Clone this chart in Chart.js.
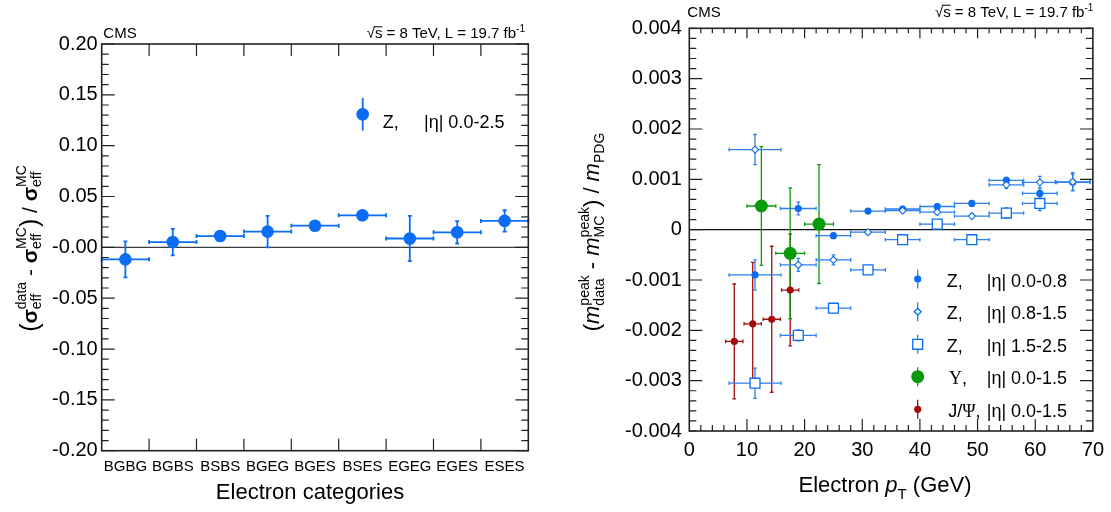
<!DOCTYPE html>
<html>
<head>
<meta charset="utf-8">
<script src="https://cdn.jsdelivr.net/npm/chart.js@4.4.1/dist/chart.umd.min.js"></script>
<style>
  html, body { margin: 0; padding: 0; background: #fff; width: 1111px; height: 512px; overflow: hidden; }
  .panel { position: absolute; top: 0; height: 512px; }
  #left { left: 0; width: 555px; }
  #right { left: 555px; width: 556px; }
</style>
</head>
<body>
<div class="panel" id="left"><canvas id="effChart"></canvas></div>
<div class="panel" id="right"><canvas id="peakChart"></canvas></div>
<script>
// left panel: relative sigma_eff shift per electron category (Z, |eta| 0.0-2.5)
const categories = ['BGBG', 'BGBS', 'BSBS', 'BGEG', 'BGES', 'BSES', 'EGEG', 'EGES', 'ESES'];
const sigmaShift = [-0.0118, 0.0052, 0.0111, 0.0155, 0.0213, 0.0315, 0.0087, 0.0148, 0.0260];
const sigmaShiftErr = [0.0177, 0.0130, 0.0030, 0.0155, 0.0040, 0.0030, 0.0222, 0.0110, 0.0105];

// right panel: relative peak shift vs electron pT
const zPt = [11.4, 18.9, 25.0, 31.0, 37.0, 43.0, 49.0, 55.0, 60.8, 66.5];
const zPtErr = [4.5, 3.1, 3.0, 3.0, 3.0, 3.0, 3.0, 3.0, 3.0, 3.0];
const zEta08 = [-0.00090, 0.00042, -0.00012, 0.00037, 0.00041, 0.00046, 0.00052, 0.00098, 0.00072, 0.00094];
const zEta08Err = [0.00030, 0.000125, 0.00005, 0.00004, 0.00005, 0.00005, 0.00004, 0.00006, 0.00010, 0.00016];
const zEta15 = [0.00159, -0.00070, -0.00060, -0.00005, 0.00038, 0.00035, 0.00027, 0.00089, 0.00094, 0.00095];
const zEta15Err = [0.00030, 0.00013, 0.00010, 0.00004, 0.00005, 0.00005, 0.00005, 0.00007, 0.00012, 0.00018];
const zEta25Pt = [11.4, 18.9, 25.0, 31.0, 37.0, 43.0, 49.0, 55.0, 60.8];
const zEta25PtErr = [4.5, 3.1, 3.0, 3.0, 3.0, 3.0, 3.0, 3.0, 3.0];
const zEta25 = [-0.00305, -0.00210, -0.00156, -0.00080, -0.00020, 0.00011, -0.00020, 0.00033, 0.00052];
const zEta25Err = [0.00030, 0.00011, 0.00005, 0.00005, 0.00005, 0.00005, 0.00005, 0.00010, 0.00014];
const upsPt = [12.5, 17.5, 22.5];
const upsPtErr = [2.5, 2.5, 2.5];
const ups = [0.00047, -0.00047, 0.00011];
const upsErr = [0.00118, 0.00130, 0.00118];
const jpsiPt = [7.8, 11.0, 14.3, 17.5];
const jpsiPtErr = [1.5, 1.5, 1.5, 1.5];
const jpsi = [-0.00222, -0.00187, -0.00178, -0.00120];
const jpsiErr = [0.00114, 0.00122, 0.00145, 0.00111];

const FONT = '"Liberation Sans", Arial, sans-serif';
const SERIF = '"Liberation Serif", "DejaVu Serif", serif';
const BLUE = '#0b6cf4';
const BLUE_BAR = '#2f80f0';
const GREEN = '#0a990a';
const RED = '#a30d0d';

const toPts = (xs, ys) => xs.map((x, i) => ({ x, y: ys[i] }));

function line(ctx, x1, y1, x2, y2) {
  ctx.beginPath(); ctx.moveTo(x1, y1); ctx.lineTo(x2, y2); ctx.stroke();
}

// horizontal + vertical error bar with small end caps
function errCross(ctx, px, py, x1, x2, yt, yb, cap) {
  ctx.beginPath();
  ctx.moveTo(x1, py); ctx.lineTo(x2, py);
  ctx.moveTo(x1, py - cap); ctx.lineTo(x1, py + cap);
  ctx.moveTo(x2, py - cap); ctx.lineTo(x2, py + cap);
  ctx.moveTo(px, yt); ctx.lineTo(px, yb);
  ctx.moveTo(px - cap, yt); ctx.lineTo(px + cap, yt);
  ctx.moveTo(px - cap, yb); ctx.lineTo(px + cap, yb);
  ctx.stroke();
}

function drawMarker(ctx, style, x, y, r, fill, stroke, lw) {
  ctx.beginPath();
  if (style === 'rect') {
    const h = r * Math.SQRT1_2;
    ctx.rect(x - h, y - h, 2 * h, 2 * h);
  } else if (style === 'rectRot') {
    ctx.moveTo(x - r, y); ctx.lineTo(x, y - r); ctx.lineTo(x + r, y); ctx.lineTo(x, y + r); ctx.closePath();
  } else {
    ctx.arc(x, y, r, 0, Math.PI * 2);
  }
  ctx.fillStyle = fill; ctx.fill();
  if (stroke) { ctx.strokeStyle = stroke; ctx.lineWidth = lw; ctx.stroke(); }
}

// text with sub/superscripts: segments {t,font,dy} or {sup,sub,font,supDy,subDy}
function richText(ctx, segs, x, y, draw) {
  let cx = x;
  segs.forEach(s => {
    ctx.font = s.font;
    if (s.t !== undefined) {
      if (draw) ctx.fillText(s.t, cx, y + (s.dy || 0));
      cx += ctx.measureText(s.t).width;
    } else {
      const w1 = ctx.measureText(s.sup || '').width;
      const w2 = ctx.measureText(s.sub || '').width;
      if (draw) {
        if (s.sup) ctx.fillText(s.sup, cx, y + s.supDy);
        if (s.sub) ctx.fillText(s.sub, cx, y + s.subDy);
      }
      cx += Math.max(w1, w2);
    }
  });
  return cx - x;
}

function drawRotatedTitle(ctx, segs, baseX, centerY) {
  ctx.save();
  ctx.translate(baseX, centerY);
  ctx.rotate(-Math.PI / 2);
  ctx.fillStyle = '#000';
  ctx.textAlign = 'left'; ctx.textBaseline = 'alphabetic';
  const w = richText(ctx, segs, 0, 0, false);
  richText(ctx, segs, -w / 2, 0, true);
  ctx.restore();
}

function drawHeader(ctx, leftX, rightX, baseY) {
  ctx.save();
  ctx.fillStyle = '#000';
  ctx.textBaseline = 'alphabetic'; ctx.textAlign = 'left';
  ctx.font = `15px ${FONT}`;
  ctx.fillText('CMS', leftX, baseY);
  const main = 's = 8 TeV, L = 19.7 fb';
  ctx.font = `10px ${FONT}`;
  const wSup = ctx.measureText('-1').width;
  ctx.font = `15px ${FONT}`;
  const wRoot = ctx.measureText('√').width;
  const wS = ctx.measureText('s').width;
  const wMain = ctx.measureText(main).width;
  const x0 = rightX - wSup - wMain - wRoot;
  ctx.fillText('√', x0, baseY);
  ctx.fillText(main, x0 + wRoot, baseY);
  ctx.lineWidth = 1; ctx.strokeStyle = '#000';
  line(ctx, x0 + wRoot - 1, baseY - 11.5, x0 + wRoot + wS, baseY - 11.5);
  ctx.font = `10px ${FONT}`;
  ctx.fillText('-1', x0 + wRoot + wMain, baseY - 6);
  ctx.restore();
}

function drawTicks(ctx, a, xPix, yPix, spec) {
  ctx.save();
  ctx.strokeStyle = '#222'; ctx.lineWidth = 1.2;
  ctx.beginPath();
  spec.xMajor.forEach(v => { const x = xPix(v); ctx.moveTo(x, a.bottom); ctx.lineTo(x, a.bottom - spec.xMajB); ctx.moveTo(x, a.top); ctx.lineTo(x, a.top + spec.xMajT); });
  spec.xMinor.forEach(v => { const x = xPix(v); ctx.moveTo(x, a.bottom); ctx.lineTo(x, a.bottom - spec.xMinB); ctx.moveTo(x, a.top); ctx.lineTo(x, a.top + spec.xMinT); });
  spec.yMajor.forEach(v => { const y = yPix(v); ctx.moveTo(a.left, y); ctx.lineTo(a.left + spec.yMaj, y); ctx.moveTo(a.right, y); ctx.lineTo(a.right - spec.yMaj, y); });
  spec.yMinor.forEach(v => { const y = yPix(v); ctx.moveTo(a.left, y); ctx.lineTo(a.left + spec.yMin, y); ctx.moveTo(a.right, y); ctx.lineTo(a.right - spec.yMin, y); });
  ctx.stroke();
  ctx.lineWidth = 1.6;
  ctx.strokeRect(a.left, a.top, a.right - a.left, a.bottom - a.top);
  ctx.restore();
}

function range(lo, hi, step) {
  const out = [];
  const n = Math.round((hi - lo) / step);
  for (let i = 0; i <= n; i++) out.push(lo + i * step);
  return out;
}

const leftDecor = {
  id: 'leftDecor',
  beforeDatasetsDraw(chart) {
    const { ctx, chartArea: a, scales: { x, y } } = chart;
    ctx.save();
    ctx.strokeStyle = '#3c3c3c'; ctx.lineWidth = 1.3;
    const y0 = y.getPixelForValue(0);
    line(ctx, a.left, y0, a.right, y0);
    const half = (x.getPixelForValue(1) - x.getPixelForValue(0)) / 2;
    ctx.strokeStyle = BLUE; ctx.lineWidth = 1.8;
    chart.getDatasetMeta(0).data.forEach((p, i) => {
      const v = sigmaShift[i], e = sigmaShiftErr[i];
      errCross(ctx, p.x, p.y, p.x - half, p.x + half, y.getPixelForValue(v + e), y.getPixelForValue(v - e), 2);
    });
    ctx.restore();
  },
  afterDatasetsDraw(chart) {
    const { ctx, chartArea: a, scales: { x, y } } = chart;
    drawTicks(ctx, a, v => x.getPixelForValue(v), v => y.getPixelForValue(v), {
      xMajor: range(0.5, 7.5, 1), xMinor: [], xMajB: 12, xMajT: 12, xMinB: 0, xMinT: 0,
      yMajor: range(-0.2, 0.2, 0.05), yMinor: range(-0.2, 0.2, 0.01), yMaj: 13, yMin: 7
    });
    // legend
    ctx.save();
    ctx.strokeStyle = BLUE; ctx.lineWidth = 1.8;
    line(ctx, 362.7, 98, 362.7, 130.5);
    drawMarker(ctx, 'circle', 362.7, 114.3, 6.3, BLUE);
    ctx.fillStyle = '#000'; ctx.font = `18px ${FONT}`; ctx.textBaseline = 'alphabetic';
    ctx.fillText('Z,', 382.7, 127.5);
    ctx.fillText('|η| 0.0-2.5', 424, 127.5);
    // x title
    ctx.font = `22px ${FONT}`; ctx.textAlign = 'center';
    ctx.fillText('Electron categories', 310, 499);
    ctx.restore();
    drawRotatedTitle(ctx, [
      { t: '(', font: `25px ${FONT}`, dy: 1 },
      { t: 'σ', font: `bold 21px ${FONT}` },
      { sup: 'data', sub: 'eff', font: `14px ${FONT}`, supDy: -11, subDy: 4 },
      { t: ' - ', font: `21px ${FONT}` },
      { t: 'σ', font: `bold 21px ${FONT}` },
      { sup: 'MC', sub: 'eff', font: `14px ${FONT}`, supDy: -11, subDy: 4 },
      { t: ')', font: `25px ${FONT}`, dy: 1 },
      { t: ' / ', font: `21px ${FONT}` },
      { t: 'σ', font: `bold 21px ${FONT}` },
      { sup: 'MC', sub: 'eff', font: `14px ${FONT}`, supDy: -11, subDy: 4 }
    ], 37, 248.5);
    drawHeader(ctx, 103.3, 525, 38.3);
  }
};

const rightDecor = {
  id: 'rightDecor',
  beforeDatasetsDraw(chart) {
    const { ctx, chartArea: a, scales: { x, y } } = chart;
    ctx.save();
    ctx.strokeStyle = '#111'; ctx.lineWidth = 1.3;
    const y0 = y.getPixelForValue(0);
    line(ctx, a.left, y0, a.right, y0);
    chart.data.datasets.forEach((ds, di) => {
      ctx.strokeStyle = ds.barColor; ctx.lineWidth = 1.3;
      chart.getDatasetMeta(di).data.forEach((p, i) => {
        const d = ds.data[i];
        errCross(ctx, p.x, p.y,
          x.getPixelForValue(d.x - ds.errX[i]), x.getPixelForValue(d.x + ds.errX[i]),
          y.getPixelForValue(d.y + ds.errY[i]), y.getPixelForValue(d.y - ds.errY[i]), 1.8);
      });
    });
    ctx.restore();
  },
  afterDatasetsDraw(chart) {
    const { ctx, chartArea: a, scales: { x, y } } = chart;
    drawTicks(ctx, a, v => x.getPixelForValue(v), v => y.getPixelForValue(v), {
      xMajor: range(10, 60, 10), xMinor: range(2, 68, 2), xMajB: 12, xMajT: 10, xMinB: 6, xMinT: 5,
      yMajor: range(-0.003, 0.003, 0.001), yMinor: range(-0.004, 0.004, 0.0002), yMaj: 13, yMin: 7
    });
    // legend
    const rows = [
      { style: 'circle', r: 3.6, fill: BLUE, stroke: null, color: BLUE_BAR, name: 'Z,', eta: '|η| 0.0-0.8' },
      { style: 'rectRot', r: 3.5, fill: '#fff', stroke: BLUE, color: BLUE_BAR, name: 'Z,', eta: '|η| 0.8-1.5' },
      { style: 'rect', r: 7, fill: '#fff', stroke: BLUE, color: BLUE_BAR, name: 'Z,', eta: '|η| 1.5-2.5' },
      { style: 'circle', r: 6.5, fill: GREEN, stroke: null, color: GREEN, name: 'Υ,', eta: '|η| 0.0-1.5', serif: true },
      { style: 'circle', r: 3.6, fill: RED, stroke: null, color: RED, name: 'J/Ψ,', eta: '|η| 0.0-1.5', serif: true }
    ];
    const rowY = [279, 311.7, 344.3, 376.7, 409.3];
    ctx.save();
    rows.forEach((r, i) => {
      const ry = rowY[i], mx = 362.7;
      ctx.strokeStyle = r.color; ctx.lineWidth = 1.3;
      line(ctx, mx, ry - 9.5, mx, ry + 9.5);
      drawMarker(ctx, r.style, mx, ry, r.r, r.fill, r.stroke, 1.3);
      ctx.fillStyle = '#000'; ctx.textBaseline = 'alphabetic';
      if (r.serif) {
        ctx.font = `18px ${FONT}`;
        const parts = r.name === 'J/Ψ,' ? [['J/', FONT], ['Ψ', SERIF], [',', FONT]] : [['Υ', SERIF], [',', FONT]];
        let tx = r.name === 'J/Ψ,' ? 393.3 : 394;
        parts.forEach(([t, f]) => { ctx.font = `18px ${f}`; ctx.fillText(t, tx, ry + 7.5); tx += ctx.measureText(t).width; });
      } else {
        ctx.font = `18px ${FONT}`;
        ctx.fillText(r.name, 391.7, ry + 7.5);
      }
      ctx.font = `18px ${FONT}`;
      ctx.fillText(r.eta, 431.7, ry + 7.5);
    });
    // x title
    ctx.font = `22px ${FONT}`;
    const segs = [
      { t: 'Electron ', font: `22px ${FONT}` },
      { t: 'p', font: `italic 22px ${FONT}` },
      { sup: '', sub: 'T', font: `15px ${FONT}`, supDy: 0, subDy: 7 },
      { t: ' (GeV)', font: `22px ${FONT}` }
    ];
    ctx.textAlign = 'left';
    const w = richText(ctx, segs, 0, 0, false);
    richText(ctx, segs, 330 - w / 2, 492, true);
    ctx.restore();
    drawRotatedTitle(ctx, [
      { t: '(', font: `22px ${FONT}` },
      { t: 'm', font: `italic 22px ${FONT}` },
      { sup: 'peak', sub: 'data', font: `14px ${FONT}`, supDy: -10, subDy: 5 },
      { t: ' - ', font: `22px ${FONT}` },
      { t: 'm', font: `italic 22px ${FONT}` },
      { sup: 'peak', sub: 'MC', font: `14px ${FONT}`, supDy: -10, subDy: 5 },
      { t: ')', font: `22px ${FONT}` },
      { t: ' / ', font: `22px ${FONT}` },
      { t: 'm', font: `italic 22px ${FONT}` },
      { sup: '', sub: 'PDG', font: `14px ${FONT}`, supDy: 0, subDy: 5 }
    ], 44, 232);
    drawHeader(ctx, 132.3, 538.3, 16.7);
  }
};

const noGrid = { display: false, drawTicks: false };

new Chart(document.getElementById('effChart'), {
  type: 'line',
  data: {
    labels: categories,
    datasets: [{
      data: sigmaShift, showLine: false, pointStyle: 'circle', pointRadius: 6.3,
      pointBackgroundColor: BLUE, pointBorderWidth: 0, clip: false
    }]
  },
  options: {
    responsive: true, maintainAspectRatio: false, animation: false,
    layout: { padding: { left: 0, right: 26.7, top: 44, bottom: 0 } },
    plugins: { legend: { display: false }, tooltip: { enabled: false } },
    scales: {
      x: {
        type: 'category', offset: true, grid: noGrid, border: { display: false },
        ticks: { font: { family: FONT, size: 15 }, color: '#000', padding: 7, autoSkip: false, maxRotation: 0 },
        afterFit: s => { s.height = 61.3; }
      },
      y: {
        min: -0.2, max: 0.2, grid: noGrid, border: { display: false },
        ticks: {
          stepSize: 0.05, font: { family: FONT, size: 20 }, color: '#000', padding: 4,
          callback: v => Math.abs(v) < 1e-9 ? '-0.00' : v.toFixed(2)
        },
        afterFit: s => { s.width = 101.7; }
      }
    }
  },
  plugins: [leftDecor]
});

new Chart(document.getElementById('peakChart'), {
  type: 'scatter',
  data: {
    datasets: [
      { data: toPts(jpsiPt, jpsi), errX: jpsiPtErr, errY: jpsiErr, barColor: RED,
        pointStyle: 'circle', pointRadius: 3.6, pointBackgroundColor: RED, pointBorderWidth: 0 },
      { data: toPts(upsPt, ups), errX: upsPtErr, errY: upsErr, barColor: GREEN,
        pointStyle: 'circle', pointRadius: 6.5, pointBackgroundColor: GREEN, pointBorderWidth: 0 },
      { data: toPts(zEta25Pt, zEta25), errX: zEta25PtErr, errY: zEta25Err, barColor: BLUE_BAR,
        pointStyle: 'rect', pointRadius: 7, pointBackgroundColor: '#fff', pointBorderColor: BLUE, pointBorderWidth: 1.3 },
      { data: toPts(zPt, zEta15), errX: zPtErr, errY: zEta15Err, barColor: BLUE_BAR,
        pointStyle: 'rectRot', pointRadius: 3.5, pointBackgroundColor: '#fff', pointBorderColor: BLUE, pointBorderWidth: 1.1 },
      { data: toPts(zPt, zEta08), errX: zPtErr, errY: zEta08Err, barColor: BLUE_BAR,
        pointStyle: 'circle', pointRadius: 3.6, pointBackgroundColor: BLUE, pointBorderWidth: 0 }
    ]
  },
  options: {
    responsive: true, maintainAspectRatio: false, animation: false,
    layout: { padding: { left: 0, right: 17.7, top: 28.3, bottom: 0 } },
    plugins: { legend: { display: false }, tooltip: { enabled: false } },
    scales: {
      x: {
        type: 'linear', min: 0, max: 70, grid: noGrid, border: { display: false },
        ticks: { stepSize: 10, font: { family: FONT, size: 20 }, color: '#000', padding: 7, maxRotation: 0 },
        afterFit: s => { s.height = 81; }
      },
      y: {
        min: -0.004, max: 0.004, grid: noGrid, border: { display: false },
        ticks: {
          stepSize: 0.001, font: { family: FONT, size: 20 }, color: '#000', padding: 7.5,
          callback: v => Math.abs(v) < 1e-12 ? '0' : v.toFixed(3)
        },
        afterFit: s => { s.width = 134.3; }
      }
    }
  },
  plugins: [rightDecor]
});
</script>
</body>
</html>
